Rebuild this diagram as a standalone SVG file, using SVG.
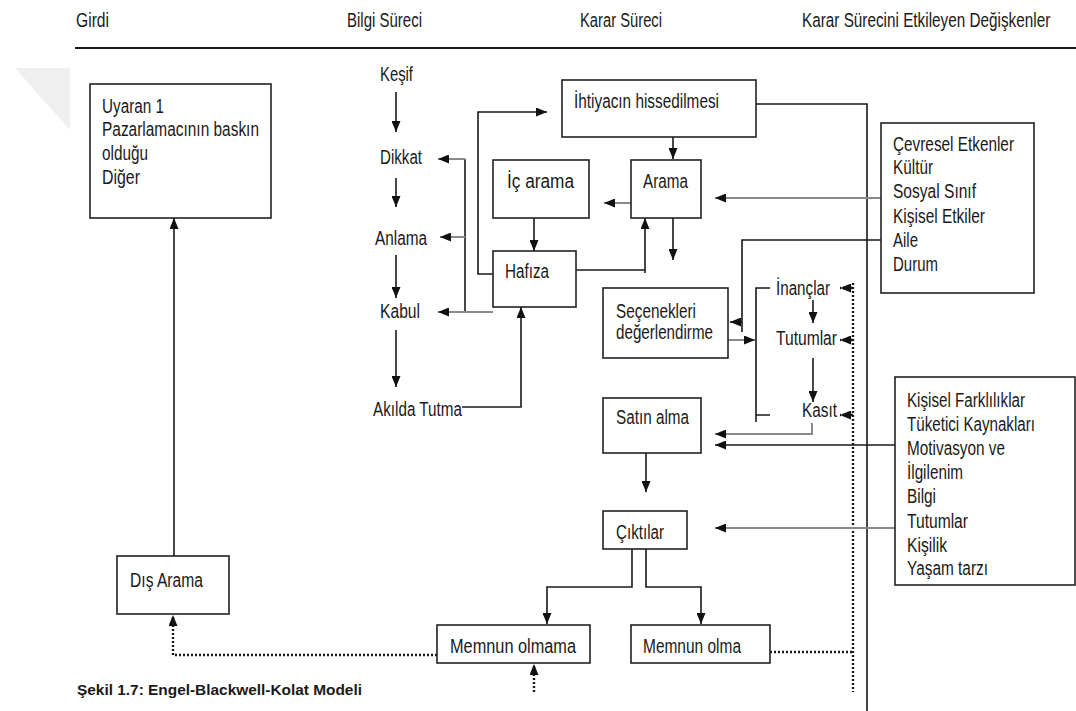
<svg xmlns="http://www.w3.org/2000/svg" width="1076" height="711" viewBox="0 0 1076 711">
  <style>
    text { font-family: "Liberation Sans", Arial, sans-serif; font-size: 19.5px; fill: #1a1a1a; }
    .cap { font-weight: bold; font-size: 15.5px; }
    .box { fill: #ffffff; stroke: #222222; stroke-width: 1.6; }
    .ln { fill: none; stroke: #1a1a1a; stroke-width: 1.6; }
    .gr { fill: none; stroke: #8a8a8a; stroke-width: 2; }
    .dot { fill: none; stroke: #1a1a1a; stroke-width: 2.4; stroke-dasharray: 2 2; }
  </style>
  <defs>
    <marker id="ah" viewBox="0 0 11 9" refX="11" refY="4.5" markerWidth="11" markerHeight="9" markerUnits="userSpaceOnUse" orient="auto">
      <path d="M0,0 L11,4.5 L0,9 z" fill="#111111"/>
    </marker>
  </defs>

  <rect width="1076" height="711" fill="#ffffff"/>
  <!-- faint corner mark -->
  <polygon points="15,68 70,68 70,130" fill="#efefef"/>

  <!-- column headings -->
  <g id="headings">
    <text x="76" y="27" textLength="33" lengthAdjust="spacingAndGlyphs">Girdi</text>
    <text x="347" y="27" textLength="75" lengthAdjust="spacingAndGlyphs">Bilgi Süreci</text>
    <text x="580" y="27" textLength="82" lengthAdjust="spacingAndGlyphs">Karar Süreci</text>
    <text transform="translate(802 27) scale(0.785 1)">Karar Sürecini Etkileyen Değişkenler</text>
    <line x1="75" y1="48" x2="1076" y2="48" stroke="#1a1a1a" stroke-width="2"/>
  </g>

  <!-- connectors -->
  <g id="connectors">
    <!-- information process chain -->
    <line class="ln" x1="396" y1="92" x2="396" y2="132" marker-end="url(#ah)"/>
    <line class="ln" x1="396" y1="178" x2="396" y2="207" marker-end="url(#ah)"/>
    <line class="ln" x1="396" y1="255" x2="396" y2="298" marker-end="url(#ah)"/>
    <line class="ln" x1="396" y1="330" x2="396" y2="387" marker-end="url(#ah)"/>
    <!-- memory feedback to attention / comprehension / acceptance -->
    <line class="ln" x1="465" y1="159" x2="465" y2="312"/>
    <line class="gr" x1="465" y1="159" x2="438" y2="159" marker-end="url(#ah)"/>
    <line class="gr" x1="465" y1="237" x2="440" y2="237" marker-end="url(#ah)"/>
    <line class="gr" x1="493" y1="312" x2="438" y2="312" marker-end="url(#ah)"/>
    <!-- retention to memory -->
    <polyline class="ln" points="462,407 521,407 521,307" marker-end="url(#ah)"/>
    <!-- memory to need recognition -->
    <polyline class="ln" points="493,274 478,274 478,112 547,112" marker-end="url(#ah)"/>
    <!-- internal search to memory -->
    <line class="ln" x1="534" y1="218" x2="534" y2="251" marker-end="url(#ah)"/>
    <!-- need recognition to search -->
    <line class="ln" x1="673" y1="137" x2="673" y2="159" marker-end="url(#ah)"/>
    <line class="gr" x1="631" y1="203" x2="604" y2="203" marker-end="url(#ah)"/>
    <line class="ln" x1="673" y1="218" x2="673" y2="260" marker-end="url(#ah)"/>
    <!-- memory to search -->
    <polyline class="ln" points="576,270 645,270"/>
    <polyline class="ln" points="645,273 645,218" marker-end="url(#ah)"/>
    <!-- need recognition outward rule -->
    <polyline class="ln" points="756,104 867,104 867,711"/>
    <!-- environmental influences -->
    <line class="gr" x1="881" y1="198" x2="715" y2="198" marker-end="url(#ah)"/>
    <polyline class="ln" points="881,240 742,240 742,332"/>
    <line class="ln" x1="742" y1="322" x2="730" y2="322" marker-end="url(#ah)"/>
    <!-- evaluation to beliefs bracket -->
    <line class="gr" x1="728" y1="340" x2="755" y2="340" marker-end="url(#ah)"/>
    <path class="ln" d="M770,288 H756 V422 M756,415 H770"/>
    <line class="ln" x1="813" y1="300" x2="813" y2="323" marker-end="url(#ah)"/>
    <line class="ln" x1="813" y1="358" x2="813" y2="402" marker-end="url(#ah)"/>
    <!-- dotted feedback rule -->
    <line class="dot" x1="853" y1="283" x2="853" y2="692"/>
    <line class="dot" x1="853" y1="288" x2="840" y2="288" marker-end="url(#ah)"/>
    <line class="dot" x1="853" y1="340" x2="840" y2="340" marker-end="url(#ah)"/>
    <line class="dot" x1="853" y1="415" x2="840" y2="415" marker-end="url(#ah)"/>
    <!-- intention and individual differences to purchase -->
    <polyline class="gr" points="812,423 812,434 715,434" marker-end="url(#ah)"/>
    <line class="ln" x1="895" y1="445" x2="715" y2="445" marker-end="url(#ah)"/>
    <line class="gr" x1="895" y1="528" x2="715" y2="528" marker-end="url(#ah)"/>
    <!-- purchase to outcomes -->
    <line class="ln" x1="646" y1="453" x2="646" y2="492" marker-end="url(#ah)"/>
    <polyline class="ln" points="632,549 632,587 547,587 547,624" marker-end="url(#ah)"/>
    <polyline class="ln" points="646,549 646,587 701,587 701,624" marker-end="url(#ah)"/>
    <!-- satisfaction feedback -->
    <line class="dot" x1="770" y1="652" x2="853" y2="652"/>
    <polyline class="dot" points="437,655 173,655 173,615" marker-end="url(#ah)"/>
    <line class="dot" x1="534" y1="692" x2="534" y2="664" marker-end="url(#ah)"/>
    <!-- external search to stimulus -->
    <line class="ln" x1="174" y1="556" x2="174" y2="218" marker-end="url(#ah)"/>
  </g>

  <!-- input -->
  <g id="uyaran">
    <rect class="box" x="90" y="84" width="181" height="134"/>
    <text x="102" y="113" textLength="62" lengthAdjust="spacingAndGlyphs">Uyaran 1</text>
    <text x="102" y="136" textLength="157" lengthAdjust="spacingAndGlyphs">Pazarlamacının baskın</text>
    <text x="102" y="160" textLength="46" lengthAdjust="spacingAndGlyphs">olduğu</text>
    <text x="102" y="184" textLength="38" lengthAdjust="spacingAndGlyphs">Diğer</text>
  </g>
  <g id="dis-arama">
    <rect class="box" x="117" y="556" width="112" height="58"/>
    <text x="130" y="587" textLength="73" lengthAdjust="spacingAndGlyphs">Dış Arama</text>
  </g>

  <!-- information processing -->
  <g id="kesif"><text x="380" y="81" textLength="33" lengthAdjust="spacingAndGlyphs">Keşif</text></g>
  <g id="dikkat"><text x="380" y="164" textLength="42" lengthAdjust="spacingAndGlyphs">Dikkat</text></g>
  <g id="anlama"><text x="375" y="245" textLength="52" lengthAdjust="spacingAndGlyphs">Anlama</text></g>
  <g id="kabul"><text x="380" y="318" textLength="40" lengthAdjust="spacingAndGlyphs">Kabul</text></g>
  <g id="akilda-tutma"><text x="373" y="416" textLength="89" lengthAdjust="spacingAndGlyphs">Akılda Tutma</text></g>
  <g id="hafiza">
    <rect class="box" x="493" y="251" width="83" height="56"/>
    <text x="505" y="278" textLength="44" lengthAdjust="spacingAndGlyphs">Hafıza</text>
  </g>

  <!-- decision process -->
  <g id="ihtiyac">
    <rect class="box" x="562" y="80" width="194" height="57"/>
    <text x="574" y="108" textLength="145" lengthAdjust="spacingAndGlyphs">İhtiyacın hissedilmesi</text>
  </g>
  <g id="ic-arama">
    <rect class="box" x="493" y="160" width="96" height="58"/>
    <text x="507" y="188" textLength="67" lengthAdjust="spacingAndGlyphs">İç arama</text>
  </g>
  <g id="arama">
    <rect class="box" x="631" y="160" width="70" height="58"/>
    <text x="643" y="188" textLength="45" lengthAdjust="spacingAndGlyphs">Arama</text>
  </g>
  <g id="secenekler">
    <rect class="box" x="603" y="288" width="125" height="70"/>
    <text x="616" y="318" textLength="80" lengthAdjust="spacingAndGlyphs">Seçenekleri</text>
    <text x="616" y="339" textLength="97" lengthAdjust="spacingAndGlyphs">değerlendirme</text>
  </g>
  <g id="inanclar"><text x="776" y="295" textLength="54" lengthAdjust="spacingAndGlyphs">İnançlar</text></g>
  <g id="tutumlar"><text x="776" y="345" textLength="61" lengthAdjust="spacingAndGlyphs">Tutumlar</text></g>
  <g id="kasit"><text x="802" y="417" textLength="35" lengthAdjust="spacingAndGlyphs">Kasıt</text></g>
  <g id="satin-alma">
    <rect class="box" x="603" y="398" width="98" height="55"/>
    <text x="616" y="424" textLength="73" lengthAdjust="spacingAndGlyphs">Satın alma</text>
  </g>
  <g id="ciktilar">
    <rect class="box" x="603" y="511" width="84" height="38"/>
    <text x="616" y="539" textLength="48" lengthAdjust="spacingAndGlyphs">Çıktılar</text>
  </g>
  <g id="memnun-olmama">
    <rect class="box" x="437" y="625" width="153" height="38"/>
    <text x="450" y="653" textLength="126" lengthAdjust="spacingAndGlyphs">Memnun olmama</text>
  </g>
  <g id="memnun-olma">
    <rect class="box" x="631" y="625" width="139" height="38"/>
    <text x="643" y="653" textLength="98" lengthAdjust="spacingAndGlyphs">Memnun olma</text>
  </g>

  <!-- influencing variables -->
  <g id="cevresel">
    <rect class="box" x="881" y="123" width="153" height="170"/>
    <text x="893" y="151" textLength="121" lengthAdjust="spacingAndGlyphs">Çevresel Etkenler</text>
    <text x="893" y="174" textLength="40" lengthAdjust="spacingAndGlyphs">Kültür</text>
    <text x="893" y="198" textLength="83" lengthAdjust="spacingAndGlyphs">Sosyal Sınıf</text>
    <text x="893" y="223" textLength="92" lengthAdjust="spacingAndGlyphs">Kişisel Etkiler</text>
    <text x="893" y="247" textLength="25" lengthAdjust="spacingAndGlyphs">Aile</text>
    <text x="893" y="271" textLength="45" lengthAdjust="spacingAndGlyphs">Durum</text>
  </g>
  <g id="kisisel">
    <rect class="box" x="895" y="377" width="180" height="208"/>
    <text x="907" y="407" textLength="118" lengthAdjust="spacingAndGlyphs">Kişisel Farklılıklar</text>
    <text x="907" y="431" textLength="128" lengthAdjust="spacingAndGlyphs">Tüketici Kaynakları</text>
    <text x="907" y="455" textLength="98" lengthAdjust="spacingAndGlyphs">Motivasyon ve</text>
    <text x="907" y="479" textLength="56" lengthAdjust="spacingAndGlyphs">İlgilenim</text>
    <text x="907" y="503" textLength="29" lengthAdjust="spacingAndGlyphs">Bilgi</text>
    <text x="907" y="528" textLength="61" lengthAdjust="spacingAndGlyphs">Tutumlar</text>
    <text x="907" y="552" textLength="40" lengthAdjust="spacingAndGlyphs">Kişilik</text>
    <text x="907" y="575" textLength="81" lengthAdjust="spacingAndGlyphs">Yaşam tarzı</text>
  </g>

  <g id="caption">
    <text class="cap" x="77" y="695" textLength="285" lengthAdjust="spacingAndGlyphs">Şekil 1.7: Engel-Blackwell-Kolat Modeli</text>
  </g>
</svg>
